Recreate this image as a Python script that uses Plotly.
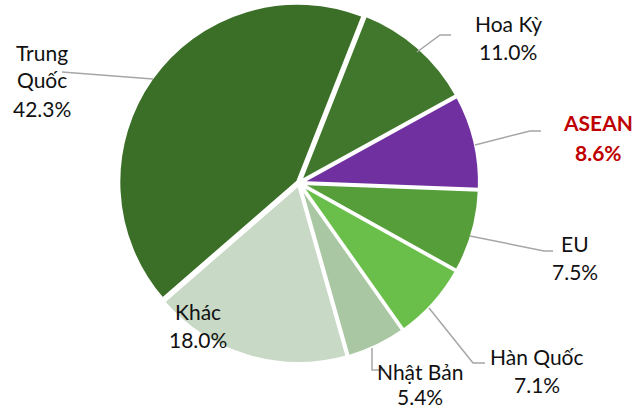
import plotly.graph_objects as go

# Data (clockwise from ~12 o'clock)
labels = ["Hoa Kỳ", "ASEAN", "EU", "Hàn Quốc", "Nhật Bản", "Khác", "Trung Quốc"]
values = [11.0, 8.6, 7.5, 7.1, 5.4, 18.0, 42.3]
colors = ["#40772c", "#7030a0", "#559e3a", "#6abf4b", "#aac7a3", "#c8d9c5", "#3b6f28"]

W, H = 636, 410

def px(x):
    return x / W

def py(y):
    return 1 - y / H

fig = go.Figure(go.Pie(
    labels=labels,
    values=values,
    sort=False,
    direction="clockwise",
    rotation=21.5,
    marker=dict(colors=colors, line=dict(color="white", width=3)),
    pull=0.01,
    textinfo="none",
    hoverinfo="label+percent",
    domain=dict(x=[px(118.5), px(479.5)], y=[py(364), py(2)]),
    showlegend=False,
))

# Label layout: centre x, first-line y (pixels)
label_pos = {
    "Hoa Kỳ": (508, 23),
    "ASEAN": (598, 122),
    "EU": (575, 243),
    "Hàn Quốc": (537, 356),
    "Nhật Bản": (420, 371),
    "Khác": (198, 311),
    "Trung Quốc": (42, 52),
}
line_gap = {"Nhật Bản": 25}
font_family = "Lato, 'Open Sans', sans-serif"
annotations = []
for lab, val in zip(labels, values):
    cx, cy = label_pos[lab]
    lines = ["Trung", "Quốc"] if lab == "Trung Quốc" else [lab]
    lines = lines + [f"{val:.1f}%"]
    is_asean = lab == "ASEAN"
    gap = line_gap.get(lab, 28)
    for i, t in enumerate(lines):
        annotations.append(dict(
            x=px(cx), y=py(cy + i * gap + (2 if is_asean and i > 0 else 0)),
            xref="paper", yref="paper",
            text=f"<b>{t}</b>" if is_asean else t,
            showarrow=False, xanchor="center", yanchor="middle",
            borderpad=0,
            font=dict(family=font_family, size=21,
                      color="#c00000" if is_asean else "#111111"),
        ))

# Leader lines (pixel paths)
leaders = [
    [(417, 52), (440, 35), (451, 35)],
    [(475, 145), (530, 131), (541, 131)],
    [(470, 236), (544, 251), (553, 251)],
    [(429, 308), (473, 363), (485, 363)],
    [(372, 348), (372, 370), (385, 370)],
    [(62, 72), (153, 79)],
]
shapes = []
for pts in leaders:
    d = "M " + " L ".join(f"{px(x)},{py(y)}" for x, y in pts)
    shapes.append(dict(type="path", xref="paper", yref="paper", path=d,
                       line=dict(color="#a6a6a6", width=1.5)))

fig.update_layout(
    width=W, height=H,
    margin=dict(l=0, r=0, t=0, b=0),
    paper_bgcolor="white",
    plot_bgcolor="white",
    annotations=annotations,
    shapes=shapes,
)

fig.write_html("out.html", config={"displayModeBar": False},
               post_script="document.body.style.margin='0';")
